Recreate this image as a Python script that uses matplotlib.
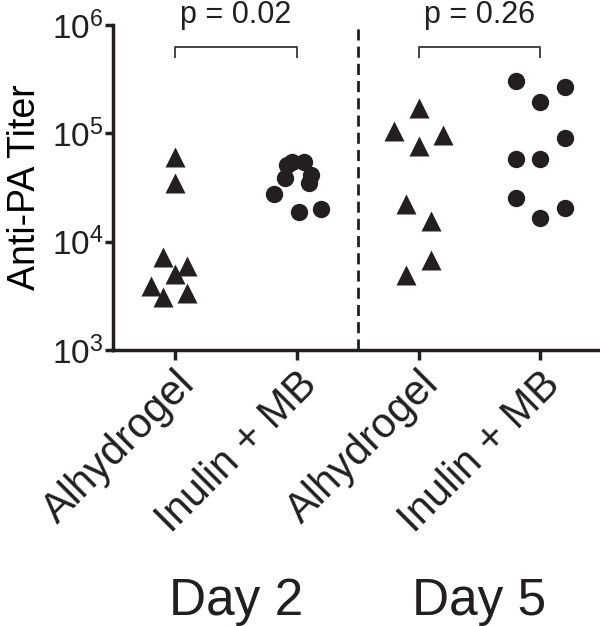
import numpy as np
import matplotlib
matplotlib.use('Agg')
import matplotlib.pyplot as plt
import matplotlib.transforms as mtransforms

plt.rcParams['font.family'] = ['Liberation Sans', 'DejaVu Sans']

# titers (Anti-PA), one list per group
d2_alhy = [60400, 34700, 7200, 5950, 5020, 3890, 3080, 3350]
d2_inul = [54300, 54300, 51000, 41200, 38700, 34700, 27500, 18700, 20000]
d5_alhy = [171000, 105000, 96000, 76400, 22200, 15500, 6760, 4920]
d5_inul = [304000, 268000, 194000, 90600, 58000, 58000, 25300, 20400, 16500]

# horizontal scatter of the points inside each column
d2_alhy_jit = [0, 0, -0.1, 0.1, 0, -0.2, -0.1, 0.1]
d2_inul_jit = [-0.04, 0.06, -0.08, 0.12, -0.1, 0.1, -0.19, 0.02, 0.2]
d5_alhy_jit = [0, -0.2, 0.2, 0, -0.1, 0.1, 0.1, -0.1]
d5_inul_jit = [-0.2, 0.2, 0, 0.2, -0.2, 0, -0.2, 0.2, 0]

tick_labels = ['Alhydrogel', 'Inulin + MB', 'Alhydrogel', 'Inulin + MB']
days = ['Day 2', 'Day 5']
pvals = ['p = 0.02', 'p = 0.26']

ink = '#231f20'

fig = plt.figure(figsize=(6, 6.26), dpi=100)
ax = fig.add_axes([0.1883, 0.4409, 0.8117, 0.5192])

groups = [(d2_alhy, d2_alhy_jit, '^'), (d2_inul, d2_inul_jit, 'o'),
          (d5_alhy, d5_alhy_jit, '^'), (d5_inul, d5_inul_jit, 'o')]
for i, (vals, jit, mk) in enumerate(groups):
    xs = i + 1 + np.array(jit)
    ms = 14 if mk == '^' else 12.5
    ax.plot(xs, vals, mk, color=ink, ms=ms, mec='none', clip_on=False)

ax.set_yscale('log')
ax.set_ylim(1e3, 1e6)
ax.set_xlim(0.49, 4.49)
ax.set_yticks([1e3, 1e4, 1e5, 1e6])
ax.set_yticklabels([r'$\mathregular{10^{%d}}$' % k for k in range(3, 7)], fontsize=24)
ax.yaxis.set_minor_locator(matplotlib.ticker.NullLocator())
ax.set_xticks([1, 2, 3, 4])
ax.set_xticklabels(tick_labels, rotation=45, ha='right', rotation_mode='anchor',
                   fontsize=30)
# nudge the slanted labels left and a little down
shift = mtransforms.ScaledTranslation(-10 / 100, -4 / 100, fig.dpi_scale_trans)
for lbl in ax.get_xticklabels():
    lbl.set_transform(lbl.get_transform() + shift)
ax.set_ylabel('Anti-PA Titer', fontsize=27, labelpad=6)

for s in ['top', 'right']:
    ax.spines[s].set_visible(False)
for s in ['left', 'bottom']:
    ax.spines[s].set_linewidth(2.5)
    ax.spines[s].set_color(ink)
ax.tick_params(axis='y', length=6, width=2.5, color=ink, labelcolor=ink, pad=1)
ax.tick_params(axis='x', length=7, width=2.5, color=ink, labelcolor=ink, pad=3)

# dashed divider between days
ax.axvline(2.5, color=ink, lw=2, ls=(0, (4, 2.2)))

# significance brackets
for k, p in enumerate(pvals):
    x0, x1 = 2 * k + 1, 2 * k + 2
    ax.plot([x0, x0, x1, x1], [5.07e5, 6.27e5, 6.27e5, 5.07e5], color='#444444',
            lw=1.4, clip_on=False)
    ax.text((x0 + x1) / 2, 1.04e6, p, ha='center', va='baseline', fontsize=22,
            color=ink, clip_on=False)

trans = mtransforms.blended_transform_factory(ax.transData, fig.transFigure)
for k, d in enumerate(days):
    ax.text(2 * k + 1.5, 0.018, d, transform=trans, ha='center', va='baseline',
            fontsize=37, color=ink)

fig.savefig('out.png', dpi=100)
